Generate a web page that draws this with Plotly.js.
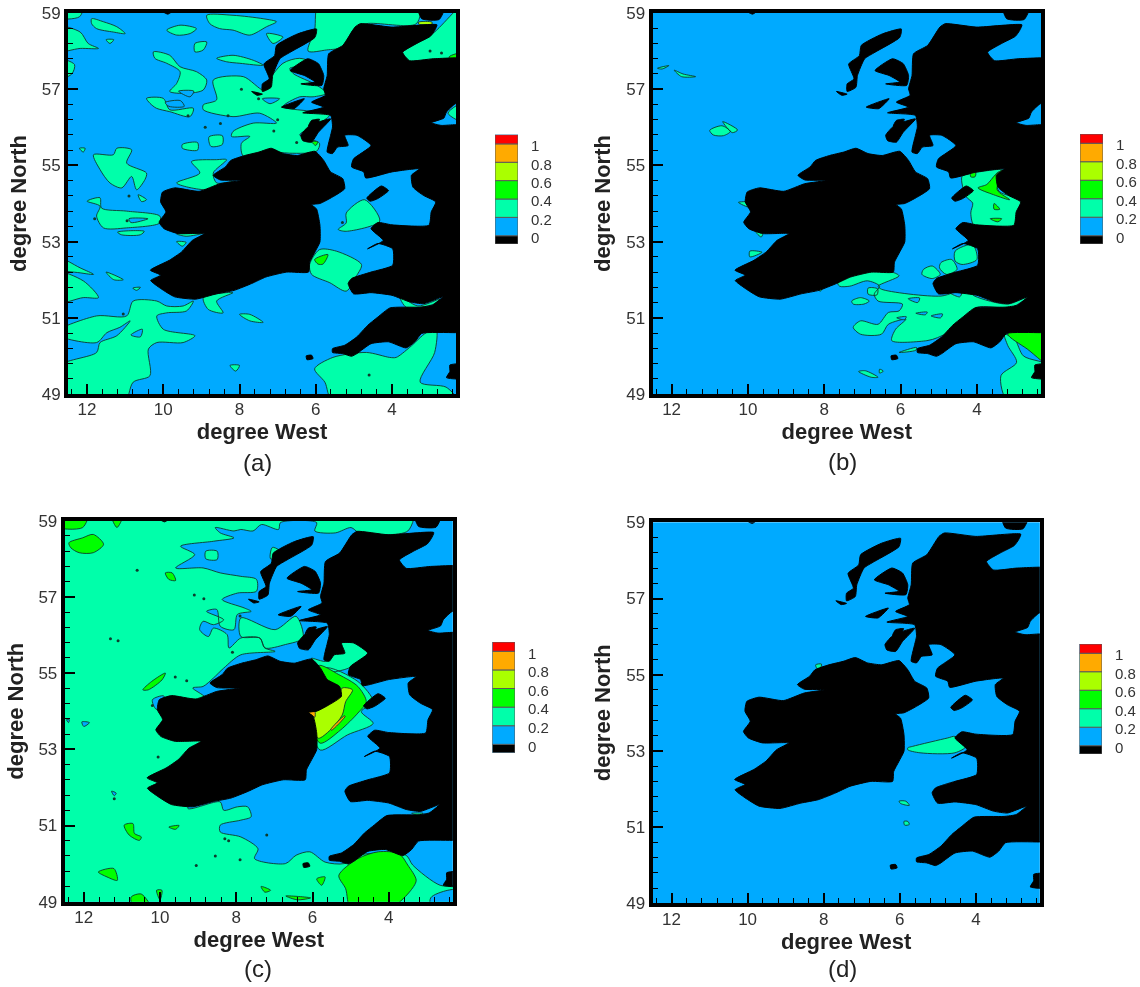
<!DOCTYPE html>
<html><head><meta charset="utf-8">
<script src="https://cdn.plot.ly/plotly-3.0.1.min.js"></script>
<style>html,body{margin:0;padding:0;background:#fff}#c{width:1140px;height:987px;filter:blur(0.55px)}</style>
</head><body><div id="c"></div>
<script>
// ---------- legend ----------
const levelColors = ['#000000','#00AAFF','#00FFAA','#00FF00','#AAFF00','#FFAA00','#FF0000'];
const levelLow  = [-0.09,0,0.2,0.4,0.6,0.8,1];
const levelHigh = [0,0.2,0.4,0.6,0.8,1,1.1];
const levelTicks = [0,0.2,0.4,0.6,0.8,1];
const levelTickText = ['0','0.2','0.4','0.6','0.8','1'];
const lonTicks = [12,10,8,6,4];
const latTicks = [49,51,53,55,57,59];
const panelLabels = ['(a)','(b)','(c)','(d)'];

// ---------- land, shared by all panels: [degree West, degree North] ----------
const landBritain = [[2.82,58.69],[2.88,58.54],[2.99,58.39],[3.35,58.2],[3.72,57.97],[3.54,57.75],[2.9,57.8],[1.8,57.77],[1.8,56.62],[2.33,56.62],[2.57,56.4],[2.64,56.24],[2.97,56.12],[2.71,56.05],[2.33,56.07],[1.8,56.07],[1.8,50.61],[2.33,50.61],[3.22,50.59],[3.4,50.37],[3.63,50.21],[4.09,50.37],[4.55,50.32],[4.92,50.06],[5.06,49.99],[5.29,50.06],[5.56,50.09],[5.56,50.19],[5.24,50.28],[4.92,50.5],[4.64,50.8],[4.37,51.02],[4.05,51.26],[3.26,51.28],[2.94,51.33],[2.67,51.55],[3.17,51.37],[3.54,51.42],[4,51.59],[4.55,51.66],[5.01,51.63],[5.15,51.9],[5.06,52.03],[4.55,52.2],[3.98,52.38],[3.98,52.81],[4.37,52.95],[4.64,52.81],[4.23,53.03],[4.55,53.34],[4.37,53.5],[4,53.44],[3.03,53.43],[2.97,53.78],[2.85,54.04],[3.17,54.21],[3.45,54.43],[3.49,54.74],[3.28,54.91],[4,54.83],[4.69,54.67],[4.74,54.83],[5.06,54.96],[5.01,55.17],[4.55,55.52],[4.92,55.79],[5.24,55.79],[5.15,55.52],[5.43,55.48],[5.56,55.31],[5.7,55.35],[5.61,55.79],[5.56,56.01],[5.61,56.31],[6.34,56.38],[5.79,56.53],[6.11,56.66],[5.75,56.84],[5.79,57.01],[5.7,57.36],[5.66,57.93],[5.29,58.15],[4.97,58.63],[4.83,58.72],[4,58.63]];
const landIreland = [[8.69,54.74],[8.37,54.96],[8.23,55.13],[7.86,55.26],[7.49,55.35],[7.17,55.45],[6.85,55.31],[6.48,55.26],[6.02,55.37],[5.79,55.13],[5.61,54.83],[5.29,54.65],[5.24,54.39],[5.56,54.17],[5.89,54.0],[6.11,53.97],[5.98,53.86],[5.89,53.43],[5.89,52.99],[6.02,52.73],[6.16,52.46],[6.19,52.2],[6.76,52.2],[7.31,52.07],[7.68,51.9],[8.14,51.72],[8.6,51.63],[9.15,51.49],[9.7,51.55],[10.07,51.77],[10.33,51.98],[10.07,52.12],[10.34,52.25],[9.84,52.51],[9.52,52.73],[9.24,53.03],[8.92,53.21],[9.61,53.21],[9.98,53.34],[10.11,53.51],[9.93,53.78],[10.07,54.04],[10.02,54.3],[9.7,54.41],[9.06,54.32],[8.51,54.52],[7.91,54.61],[8.51,54.62]];
const landIslay = [[6.39,55.79],[6.16,56.05],[5.61,56.22],[5.93,55.87],[6.11,55.61],[6.34,55.65]];
const landMull = [[6.19,56.03],[6.11,56.18],[5.9,56.21],[6.02,56.03]];
const landTiree = [[6.9,56.53],[6.3,56.75],[6.57,56.49]];
const landSkye = [[6.67,57.49],[6.21,57.8],[5.93,57.67],[5.79,57.36],[5.84,57.1],[6.39,57.14],[6.02,57.19],[6.3,57.36]];
const landHebrides = [[5.98,58.58],[6.02,58.36],[6.67,57.97],[6.94,57.8],[7.13,57.36],[7.17,57.05],[7.4,56.94],[7.4,57.14],[7.22,57.27],[7.36,57.66],[7.08,57.88],[7.03,58.15],[6.48,58.45]];
const landBarra = [[7.68,56.94],[7.4,56.87],[7.54,56.84]];
const landMan = [[4.66,54.14],[4.28,54.46],[4.09,54.34],[4.37,54.13],[4.57,54.06]];
const landScilly = [[6.25,50.0],[6.11,50.02],[6.07,49.93],[6.23,49.9]];
const landOrkney = [[3.36,59.3],[3.22,58.85],[2.76,58.83],[2.57,59.3]];
const landRockall = [[10.11,59.1],[9.7,59.1],[9.88,58.97]];
const landFrance = [[2.48,49.76],[1.9,49.78],[1.9,49.41],[2.57,49.43],[2.48,49.59]];
const landAll = [landBritain,landIreland,landIslay,landMull,landTiree,landSkye,landHebrides,landBarra,landMan,landScilly,landOrkney,landRockall,landFrance];

// ---------- panel (a) ----------
const aAqua = [
 [[12.8,58.65],[12.18,58.5],[11.97,58.2],[11.7,58.07],[12.18,58.07],[12.8,58.0]],
 [[11.88,58.85],[11.57,58.77],[11.22,58.64],[11,58.46],[11.31,58.5],[11.75,58.59],[11.88,58.72]],
 [[12.8,57.8],[12.33,57.65],[12.4,57.4],[12.8,57.25]],
 [[8.86,58.94],[8.17,58.94],[7.38,58.85],[7.03,58.77],[7.29,58.64],[7.73,58.42],[8.17,58.55],[8.52,58.59],[8.78,58.72]],
 [[9.91,58.55],[9.56,58.68],[9.13,58.59],[9.3,58.46],[9.65,58.42]],
 [[10.26,57.98],[9.83,57.89],[9.56,57.59],[9.13,57.46],[8.86,57.24],[8.95,56.98],[9.39,56.89],[9.83,56.94],[9.65,57.15],[9.56,57.46],[9.91,57.68],[10.22,57.81]],
 [[10.44,56.76],[10,56.76],[9.83,56.46],[9.21,56.5],[9.3,56.28],[9.83,56.41],[10.18,56.5],[10.35,56.63]],
 [[8.69,57.24],[7.9,57.33],[7.38,56.98],[7.29,57.15],[6.86,57.68],[6.42,57.81],[5.9,57.63],[6.68,57.55],[6.59,57.41],[5.98,57.11],[5.72,56.89],[6.07,56.8],[6.42,56.8],[6.86,56.54],[5.63,56.33],[5.9,56.11],[6.42,55.8],[5.9,55.58],[5.98,55.37],[6.68,55.32],[7.29,55.37],[7.9,55.24],[7.95,55.58],[7.73,55.76],[8.21,55.76],[8.17,55.89],[7.64,56.11],[7.03,56.11],[7.47,56.37],[8.17,56.28],[8.95,56.46],[8.95,56.59],[8.6,56.72]],
 [[5.9,59.3],[3.28,59.3],[3.36,58.72],[4.67,58.72],[5.02,58.55],[5.28,58.11],[5.72,58.03],[6.2,58],[6.03,58.55]],
 [[3.8,57.89],[2.93,58.46],[2.0,59.3],[2.0,57.7],[3.67,57.7]],
 [[2.53,56.37],[2.0,56.7],[2.0,56.1]],
 [[11.83,55.28],[11.31,55.28],[11.22,55.45],[10.83,55.41],[10.96,55.06],[10.44,54.8],[10.48,54.63],[10.7,54.36],[10.83,54.71],[11.09,54.41],[11.4,54.54],[11.66,54.89]],
 [[12,54.06],[11.66,54.15],[11.62,53.88],[10.96,53.8],[10.09,53.67],[10.09,53.49],[10.96,53.36],[11.57,53.36],[11.75,53.67],[11.66,53.93]],
 [[12.8,52.6],[12.18,52.31],[11.83,52.14],[12.18,52.18],[12.8,52.3]],
 [[12.8,52.2],[12.1,51.97],[11.7,51.53],[12.1,51.53],[12.8,51.4]],
 [[12.8,50.65],[11.75,51.05],[10.96,51.05],[10.79,51.44],[10.17,51.44],[9.91,51.31],[9.48,51.31],[9.21,51.44],[9.39,51.18],[9.91,51.13],[10.17,51.05],[10,50.7],[9.17,50.53],[9.48,50.35],[10.17,50.35],[10.39,50.18],[10.35,49.48],[10.79,49.31],[11.05,48.7],[12.8,48.7],[12.8,49.7],[11.75,50.09],[11.66,50.35],[11.22,50.53],[10.87,50.92],[11.14,50.75],[11.48,50.61],[11.75,50.35],[12.8,50.55]],
 [[8.95,51.53],[8.17,51.66],[8.6,51.44],[8.43,51.13],[8.82,51.22]],
 [[8,51.09],[7.73,51.09],[7.38,50.88],[7.73,50.92]],
 [[9.5,55.55],[9.1,55.6],[9.1,55.4],[9.5,55.45]],
 [[8.8,55.75],[8.45,55.78],[8.45,55.55],[8.75,55.5]],
 [[9.26,55.1],[8.6,55.15],[8.34,55.15],[8.69,54.8],[8.6,54.54],[8.17,54.58],[8.86,54.36],[9.65,54.54],[9.04,54.8]],
 [[5.2,53.75],[4.72,54.1],[4.32,53.54],[5.2,53.27],[5.41,53.32],[5.2,53.49]],
 [[5.9,52.79],[5.46,52.75],[4.8,52.4],[4.93,52.1],[5.2,51.7],[5.63,51.92],[6.11,52.14],[6.16,52.4]],
 [[3.8,51.57],[3.32,51.31],[2.75,51.49],[2.93,51.35],[3.62,51.27]],
 [[6.03,49.66],[5.55,49.96],[4.67,50.09],[4.06,49.96],[3.89,49.96],[3.54,50.22],[3.1,50.61],[2.84,50.7],[2.88,50.09],[3.26,49.31],[2.58,49.18],[2.34,48.9],[5.55,48.8],[5.76,49.31]],
 [[8.25,49.75],[8,49.75],[8.1,49.6]],
 [[11.5,52.2],[11.05,52],[11.3,52]],
 [[9.65,53.2],[8.95,53.22],[9.4,53.14]],
 [[11.5,58.3],[11.3,58.3],[11.4,58.2]],
 [[9.65,53],[9.4,52.98],[9.5,52.88]],
 [[12.8,59.2],[12.1,59.2],[12.2,58.9],[12.8,58.88]],
 [[9.17,58.2],[8.86,58.24],[8.95,58.03],[9.17,57.98]],
 [[8.6,57.81],[8.17,57.89],[7.64,57.76],[7.38,57.63],[7.99,57.68],[8.34,57.72]],
 [[7.29,58.46],[6.86,58.37],[7.12,58.2]],
 [[12.2,55.45],[12.05,55.45],[12.1,55.35]],
 [[10.66,54.23],[10.44,54.1],[10.57,54.05]],
 [[11.2,53.25],[10.5,53.27],[10.6,53.18],[11.1,53.18]],
 [[10.8,51.78],[10.6,51.8],[10.7,51.72]]
];
const aBlue = [
 [[9.6,56.95],[9.2,56.95],[9.3,56.8]],
 [[9.95,56.65],[9.55,56.7],[9.45,56.55],[9.85,56.55]],
 [[10.85,50.55],[10.55,50.7],[10.6,50.5]],
 [[7.4,56.75],[6.95,56.75],[7.2,56.62]],
 [[10.4,53.6],[10.9,53.6],[10.85,53.5]]
];
const aGreen = [
 [[6.03,52.53],[5.68,52.66],[5.81,52.41],[5.94,52.41]],
 [[2.5,57.85],[2.1,57.95],[2.1,57.6],[2.45,57.72]],
 [[6.1,55.62],[5.95,55.62],[6,55.52]]
];
const aLime = [[[3.3,58.76],[2.95,58.76],[2.95,58.71],[3.3,58.71]]];
const aSpecksLon = [7.95,7.5,8.5,7.0,6.5,10.9,11.8,9.35,8.9,8.3,7.1,10.95,11.05,5.3,4.6,3.0,2.7];
const aSpecksLat = [57.0,56.75,56.1,56.2,55.6,54.2,53.6,56.3,56.0,56.3,55.9,53.55,51.1,53.5,49.5,58.0,57.95];

// ---------- panel (b) ----------
const bAqua = [
 [[11.93,57.5],[11.7,57.4],[11.37,57.33],[11.74,57.33]],
 [[12.37,57.55],[12.07,57.62],[12.25,57.53]],
 [[11,55.92],[10.68,56.04],[10.46,55.89],[10.64,55.78],[10.91,55.8]],
 [[10.66,56.15],[10.27,55.93],[10.41,55.86]],
 [[4.39,54.71],[4.11,54.8],[3.33,54.89],[3.51,54.76],[3.42,54.32],[2.82,54.06],[3.01,53.4],[4.06,53.4],[4.16,53.75],[4.11,54.01],[4.29,54.19]],
 [[4.57,52.75],[4.11,52.92],[4,52.53],[4.39,52.4],[4.57,52.49]],
 [[4.94,52.45],[4.66,52.53],[4.52,52.27],[4.8,52.14],[4.98,52.31]],
 [[5.4,52.27],[5.17,52.36],[4.96,52.14],[5.17,52.03],[5.44,52.14]],
 [[7.65,51.94],[7.33,52.14],[6.23,52.2],[6.04,52.1],[6.59,51.83],[6.5,51.75],[4.94,51.57],[4.29,51.75],[4.06,51.57],[3.19,51.36],[2.64,51.57],[3.1,51.27],[4.02,51.27],[4.39,50.83],[5.03,50.48],[5.31,50.4],[6.23,50.4],[6.13,50.7],[5.86,50.96],[6.32,50.83],[6.5,50.57],[7.05,50.57],[7.24,50.75],[7.05,50.92],[6.59,50.83],[6.32,51.14],[6.04,51.18],[5.95,51.36],[6.59,51.44],[6.69,51.62],[6.55,51.83],[6.87,51.97],[7.33,51.83],[7.6,51.83]],
 [[7.28,51.44],[7.05,51.53],[6.82,51.44],[6.96,51.36],[7.24,51.36]],
 [[6.85,51.78],[6.6,51.76],[6.62,51.6],[6.85,51.62]],
 [[3.28,50.57],[3.01,50.44],[2.78,50],[2.0,49.7],[2.0,48.8],[3.19,48.8],[3.37,49.48],[2.96,49.83],[3.19,50.27]],
 [[7.1,49.59],[6.92,49.61],[6.59,49.44],[6.77,49.44]],
 [[6.04,50.09],[5.58,50.22],[5.6,50.15]],
 [[10.25,54.03],[9.95,54.03],[9.95,53.9]],
 [[9.8,53.27],[9.6,53.27],[9.65,53.12]],
 [[9.95,52.75],[9.63,52.72],[9.95,52.6]],
 [[6.55,49.65],[6.45,49.6],[6.55,49.55]],
 [[8.2,51.8],[8.0,51.85],[8.1,51.7]]
];
const bBlue = [
 [[5.8,51.5],[5.5,51.52],[5.55,51.4]],
 [[6.1,51.0],[5.85,51.03],[5.9,50.95]],
 [[5.2,51.05],[4.9,51.1],[4.95,51.0]],
 [[4.7,51.65],[4.4,51.65],[4.45,51.55]],
 [[5.6,51.12],[5.3,51.15],[5.35,51.08]]
];
const bGreen = [
 [[4.16,54.82],[4.03,54.8],[4.05,54.7],[4.16,54.7]],
 [[3.97,54.41],[3.74,54.5],[3.51,54.76],[3.33,54.87],[3.47,54.36],[3.14,54.1],[3.56,54.23]],
 [[3.55,54],[3.4,53.85],[3.55,53.85]],
 [[3.65,53.6],[3.35,53.6],[3.45,53.52]],
 [[3.19,50.57],[2.96,50.72],[2.0,50.7],[2.0,49.7],[2.68,50.18]]
];

// ---------- panel (c) ----------
const cAqua = [
 [[13,59.4],[3.37,59.4],[3.5,58.73],[4.77,58.68],[4.99,58.82],[5.4,58.68],[5.94,58.73],[5.89,58.95],[6.84,58.95],[6.89,58.77],[7.34,58.9],[7.56,58.73],[7.88,58.77],[8.06,58.73],[8.55,58.82],[8.42,58.68],[8.06,58.55],[8.6,58.46],[9.46,58.33],[9.09,58.11],[9.59,57.76],[8.87,57.76],[8.42,57.63],[7.88,57.54],[7.47,57.46],[7.47,57.15],[7.97,57.1],[8.37,56.93],[7.79,56.71],[7.61,56.62],[7.97,56.54],[8.06,56.14],[8.42,56.23],[8.51,56.67],[8.78,56.62],[8.33,56.4],[8.6,56.27],[8.87,56.36],[8.96,56.14],[8.73,55.96],[8.6,56.18],[8.24,56.01],[8.19,55.66],[7.88,55.92],[7.38,55.92],[7.25,55.66],[6.98,55.57],[7.88,55.48],[8.33,55.13],[8.6,54.87],[8.87,54.65],[9.14,54.61],[8.78,54.34],[8,53],[9.27,51.45],[8.42,51.62],[8.33,51.4],[7.97,51.49],[7.7,51.49],[7.61,51.23],[7.88,51.14],[8.42,51.01],[8.42,50.83],[7.88,50.7],[7.43,50.39],[7.52,50.13],[6.71,50],[6.43,50.22],[6.07,50.31],[5.67,50.04],[5.17,50],[4.81,50.22],[3.55,50.22],[3.37,49.96],[2.65,49.43],[2.0,49.39],[2.0,48.6],[13,48.6]],
 [[6.03,55.39],[5.62,55.31],[5.26,55.79],[4.95,55.83],[4.54,55.57],[4.72,55.31],[5.17,55.09],[5.62,55.04]],
 [[5.71,55.13],[4.81,54.78],[4.41,54.25],[4.72,53.99],[4.41,53.68],[5.08,53.38],[5.8,52.98],[6.03,53.73]],
 [[7.88,56.45],[6.98,56.14],[6.43,56.49],[6.25,55.92],[6.71,55.75],[7.25,55.66],[7.38,55.92],[7.88,55.96]],
 [[8.8,58.2],[8.5,58.2],[8.5,57.98],[8.8,58]],
 [[7.05,58.3],[6.7,58.1],[7.1,58.0]],
 [[3.4,51.32],[3.1,51.32],[3.2,51.26]]
];
const cBlue = [
 [[2.9,49.1],[2.45,49.3],[2.0,49.3],[2.0,48.7],[2.85,48.7]],
 [[12.05,53.72],[11.85,53.7],[12,53.6]],
 [[11.27,51.9],[11.15,51.85],[11.2,51.78]],
 [[12.45,53.78],[12.38,53.78],[12.4,53.7]],
 [[10.2,54.3],[9.9,54.4],[9.9,54.1],[10.1,54.05]]
];
const cGreen = [
 [[12.39,58.42],[12.03,58.55],[11.75,58.64],[11.48,58.38],[11.75,58.16],[12.12,58.16],[12.34,58.29]],
 [[12.8,59.2],[11.89,59.2],[12.03,58.82],[12.8,58.86]],
 [[11.26,59.1],[10.99,59.1],[11.13,58.82]],
 [[9.86,57.63],[9.68,57.63],[9.59,57.43],[9.77,57.46]],
 [[10.45,54.56],[10.22,54.78],[9.86,55],[9.95,54.82],[10.31,54.56]],
 [[10.94,51.01],[10.71,51.05],[10.67,50.79],[10.49,50.7],[10.54,50.61],[10.81,50.75]],
 [[11.62,49.78],[11.21,49.87],[11.12,49.56],[11.39,49.65]],
 [[10.76,49.12],[10.49,49.2],[10.22,48.8],[10.67,48.8]],
 [[10.09,49.3],[9.95,49.3],[10,49.05]],
 [[9.77,50.96],[9.5,51],[9.59,50.9]],
 [[5.85,55.2],[5.31,54.96],[4.81,54.65],[4.59,54.25],[4.81,53.95],[5.26,53.51],[5.8,53.16],[6.07,53.82],[6.03,54.52]],
 [[5.31,49.69],[4.81,50.13],[4.27,50.31],[3.73,50.26],[3.5,49.96],[3.28,49.56],[3.46,49.25],[4,48.8],[4.99,48.8],[5.13,49.34]],
 [[5.89,49.6],[5.67,49.65],[5.76,49.43]],
 [[7.35,49.4],[7.1,49.3],[7.25,49.25]],
 [[6.05,49.1],[6.7,49.15],[6.4,49.05]]
];
const cLime = [[[6.16,53.95],[5.94,53.99],[5.31,54.39],[5.22,54.61],[4.95,54.56],[5.13,54.25],[5.22,53.9],[5.53,53.51],[5.85,53.29],[6.03,53.73]]];
const cOrange = [
 [[6.16,53.95],[5.94,53.99],[5.94,53.84],[6.03,53.9]],
 [[5.16,53.88],[5.14,53.87],[5.5,53.5],[5.52,53.52]]
];
const cSpecksLon = [11.3,11.1,10.6,10.2,9.9,9.6,9.3,8.9,8.55,8.2,7.9,9.05,11.2,10.05,9.1,8.85,8.3,7.2,7.9,8.1];
const cSpecksLat = [55.9,55.85,57.7,54.15,53.4,54.9,54.8,51.9,50.2,50.6,50.1,49.95,51.7,52.8,57.05,56.95,50.65,50.75,56.5,55.55];

// ---------- panel (d) ----------
const dAqua = [
 [[5.79,53.08],[5.66,53.12],[4.74,53.34],[4.55,53.38],[4.26,53.12],[4.55,52.95],[5.47,52.95],[5.79,53.03]],
 [[6.02,51.68],[5.84,51.68],[5.75,51.57],[5.98,51.62]],
 [[5.89,51.15],[5.79,51.15],[5.75,51.07],[5.87,51.05]],
 [[8.21,55.26],[8.06,55.28],[8.09,55.17],[8.18,55.17]]
];

// ---------- per-panel layers and pixel boxes ----------
const panelLayers = [
 [[aAqua,levelColors[2]],[aBlue,levelColors[1]],[aGreen,levelColors[3]],[aLime,levelColors[4]]],
 [[bAqua,levelColors[2]],[bBlue,levelColors[1]],[bGreen,levelColors[3]]],
 [[cAqua,levelColors[2]],[cBlue,levelColors[1]],[cGreen,levelColors[3]],[cLime,levelColors[4]],[cOrange,levelColors[5]]],
 [[dAqua,levelColors[2]]]
];
const panelSpecks = [[aSpecksLon,aSpecksLat],null,[cSpecksLon,cSpecksLat],null];
const W=1140,H=987;
const boxes = [
 {l:68,r:456,t:13,b:394, kl:495,kr:518,kt:134.7,kb:244, tx:257,ty:462},
 {l:652.5,r:1041,t:13,b:394, kl:1080,kr:1103,kt:134,kb:244, tx:842.6,ty:461},
 {l:64.7,r:452.8,t:520.7,b:901.7, kl:492.4,kr:515,kt:642,kb:752.7, tx:258,ty:968},
 {l:652.5,r:1039.8,t:522.3,b:903.3, kl:1079.5,kr:1102,kt:644,kb:754, tx:842.6,ty:968}
];
function flat(polys){
  const x=[],y=[];
  polys.forEach(p=>{p.forEach(q=>{x.push(q[0]);y.push(q[1]);});x.push(p[0][0]);y.push(p[0][1]);x.push(null);y.push(null);});
  return {x,y};
}
const data=[];
const layout={width:W,height:H,margin:{l:0,r:0,t:0,b:0},paper_bgcolor:'#fff',plot_bgcolor:levelColors[1],showlegend:false,annotations:[]};
const FONT='"Liberation Sans",Arial,sans-serif';
boxes.forEach((b,i)=>{
  const xa='x'+(i*2+1), ya='y'+(i*2+1), xk='x'+(i*2+2), yk='y'+(i*2+2);
  panelLayers[i].forEach(([polys,col])=>{
    const f=flat(polys);
    data.push({type:'scatter',mode:'lines',x:f.x,y:f.y,xaxis:xa,yaxis:ya,fill:'toself',fillcolor:col,
      line:{color:'#0d3b2c',width:0.9,shape:'spline',smoothing:0.8},hoverinfo:'skip'});
  });
  if(panelSpecks[i]) data.push({type:'scatter',mode:'markers',x:panelSpecks[i][0],y:panelSpecks[i][1],xaxis:xa,yaxis:ya,
      marker:{size:3,color:'#0d3b2c'},hoverinfo:'skip'});
  const f=flat(landAll);
  data.push({type:'scatter',mode:'lines',x:f.x,y:f.y,xaxis:xa,yaxis:ya,fill:'toself',fillcolor:'#000',
      line:{color:'#000',width:1,shape:'spline',smoothing:0.5},hoverinfo:'skip'});
  levelColors.forEach((c,k)=>{
    data.push({type:'bar',x:[0],y:[levelHigh[k]-levelLow[k]],base:[levelLow[k]],width:[1],xaxis:xk,yaxis:yk,
      marker:{color:c,line:{color:'#5a5a5a',width:1}},hoverinfo:'skip'});
  });
  const xn=i?'xaxis'+(i*2+1):'xaxis', yn=i?'yaxis'+(i*2+1):'yaxis';
  layout[xn]={domain:[b.l/W,b.r/W],range:[12.5,2.32],anchor:ya,tickmode:'array',tickvals:lonTicks,ticktext:lonTicks.map(String),
    ticks:'inside',ticklen:10,tickwidth:2,tickcolor:'#000',showgrid:false,zeroline:false,showline:true,linecolor:'#000',linewidth:4,mirror:true,
    ticklabelstandoff:-3,tickfont:{family:FONT,size:17,color:'#333'},
    minor:{tickmode:'linear',tick0:0,dtick:0.4,ticks:'inside',ticklen:5,tickwidth:1,tickcolor:'#000',showgrid:false},
    title:{text:'degree West',standoff:0,font:{family:FONT,size:22,weight:700,color:'#222'}}};
  layout[yn]={domain:[1-b.b/H,1-b.t/H],range:[49,59],anchor:xa,tickmode:'array',tickvals:latTicks,ticktext:latTicks.map(String),
    ticks:'inside',ticklen:10,tickwidth:2,tickcolor:'#000',showgrid:false,zeroline:false,showline:true,linecolor:'#000',linewidth:4,mirror:true,
    tickfont:{family:FONT,size:17,color:'#333'},
    minor:{tickmode:'linear',tick0:49,dtick:0.4,ticks:'inside',ticklen:5,tickwidth:1,tickcolor:'#000',showgrid:false},
    title:{text:'degree North',standoff:10,font:{family:FONT,size:22,weight:700,color:'#222'}}};
  layout['xaxis'+(i*2+2)]={domain:[b.kl/W,b.kr/W],range:[-0.5,0.5],anchor:yk,showticklabels:false,ticks:'',showgrid:false,zeroline:false,fixedrange:true};
  layout['yaxis'+(i*2+2)]={domain:[1-b.kb/H,1-b.kt/H],range:[-0.09,1.1],anchor:xk,side:'right',tickmode:'array',tickvals:levelTicks,ticktext:levelTickText,
    ticks:'',showgrid:false,zeroline:false,showline:false,ticklabelstandoff:12,ticklabelshift:2,
    tickfont:{family:FONT,size:15,color:'#333'}};
  layout.annotations.push({xref:'paper',yref:'paper',x:b.tx/W,y:1-b.ty/H,xanchor:'center',yanchor:'middle',showarrow:false,
    text:panelLabels[i],font:{family:FONT,size:24,color:'#222'}});
});
layout.barmode='overlay';
Plotly.newPlot('c',data,layout,{displayModeBar:false,staticPlot:true});
</script></body></html>
